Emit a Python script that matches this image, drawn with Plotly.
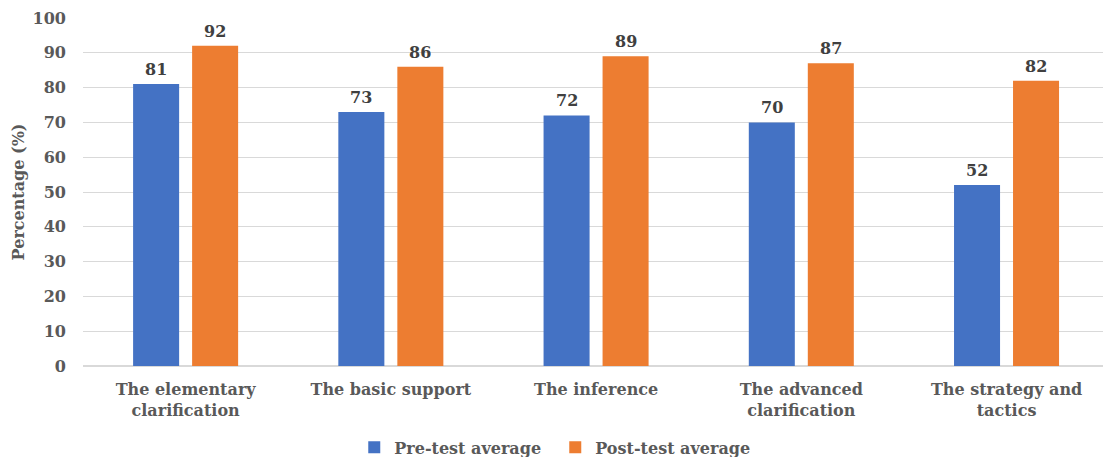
import plotly.graph_objects as go

categories = ["The elementary<br>clarification", "The basic support", "The inference",
              "The advanced<br>clarification", "The strategy and<br>tactics"]
pre_values = [81, 73, 72, 70, 52]
post_values = [92, 86, 89, 87, 82]
series_names = ["Pre-test average", "Post-test average"]
y_ticks = [0, 10, 20, 30, 40, 50, 60, 70, 80, 90, 100]

BLUE = "#4472C4"
ORANGE = "#ED7D31"
GREY = "#595959"
FONT = "DejaVu Serif"

fig = go.Figure()
fig.add_trace(go.Bar(x=categories, y=pre_values, name=series_names[0], marker_color=BLUE,
                     marker_line_width=0))
fig.add_trace(go.Bar(x=categories, y=post_values, name=series_names[1], marker_color=ORANGE,
                     marker_line_width=0))

slot_shift = 29.5
for vals, sh in ((pre_values, -slot_shift), (post_values, slot_shift)):
    for c, v in zip(categories, vals):
        fig.add_annotation(x=c, y=v, text=f"<b>{v}</b>", showarrow=False, xshift=sh,
                           yshift=3, yanchor="bottom",
                           font=dict(family=FONT, size=16, color="#404040"))

fig.update_layout(
    width=1103, height=457,
    margin=dict(l=83, r=0, t=18, b=91, autoexpand=False),
    paper_bgcolor="white", plot_bgcolor="white",
    barmode="group", bargap=0.425, bargroupgap=0.22,
    font=dict(family=FONT, size=15, color=GREY),
    legend=dict(orientation="h", x=0.463, xanchor="center", y=-0.185, yanchor="top",
                font=dict(family=FONT, size=16, color=GREY, weight="bold"),
                traceorder="normal", entrywidth=156, tracegroupgap=0),
    showlegend=True,
)
fig.update_xaxes(range=[-0.5, 4.47], showgrid=False, ticks="", showline=False,
                 automargin=False, ticklabelstandoff=12,
                 tickfont=dict(family=FONT, size=16, color=GREY, weight="bold"))
fig.update_yaxes(range=[0, 100], tickvals=y_ticks, showgrid=True, gridcolor="#D9D9D9",
                 gridwidth=1, zeroline=True, zerolinecolor="#D9D9D9", zerolinewidth=2,
                 ticks="", ticklabelstandoff=16, automargin=False,
                 tickfont=dict(family=FONT, size=16, color=GREY, weight="bold"),
                 title=dict(text="<b>Percentage (%)</b>", standoff=3,
                            font=dict(family=FONT, size=16, color=GREY)))

fig.write_html("out.html")
